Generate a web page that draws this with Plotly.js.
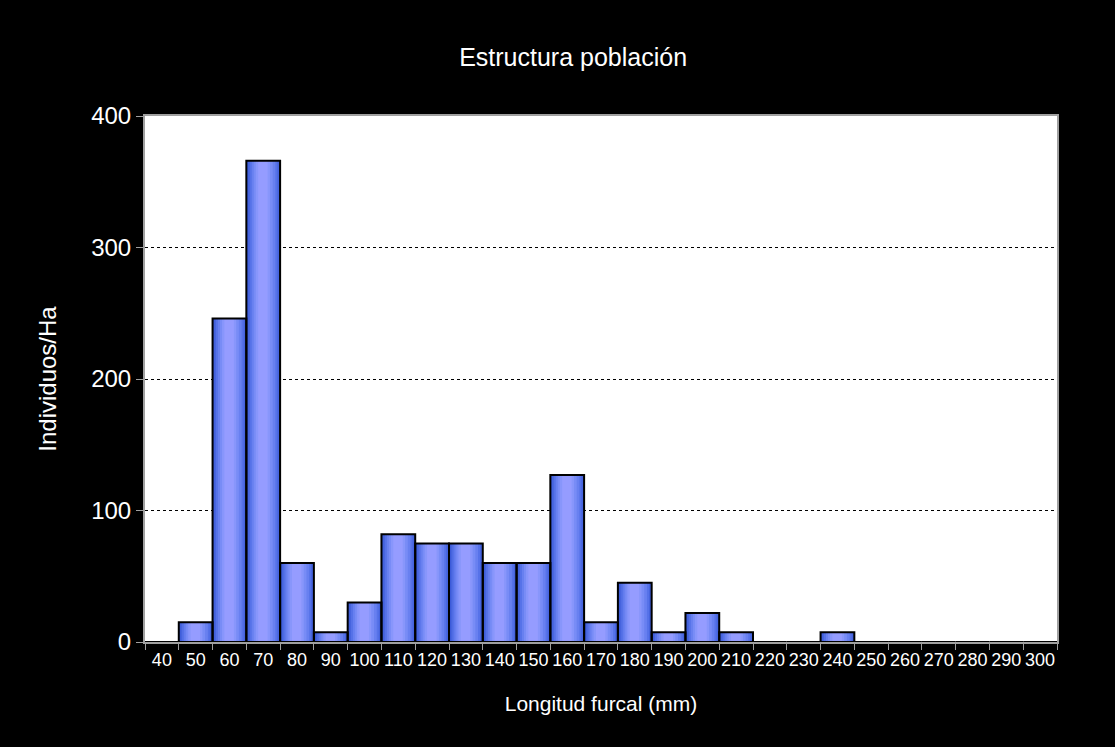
<!DOCTYPE html>
<html>
<head>
<meta charset="utf-8">
<script src="https://cdn.plot.ly/plotly-3.0.1.min.js"></script>
<style>html,body{margin:0;padding:0;background:#000;}#chart{width:1115px;height:747px;}</style>
</head>
<body>
<div id="chart"></div>
<script>
const categories = ["40","50","60","70","80","90","100","110","120","130","140","150","160","170","180","190","200","210","220","230","240","250","260","270","280","290","300"];
const values = [0,15,246,366,60,7.5,30,82,75,75,60,60,127,15,45,7.5,22,7.5,0,0,7.5,0,0,0,0,0,0];

// gradient layers: [offset, width, color]
const layers = [
  [-0.5, 1.0, "#3858d6"],
  [-0.45, 0.92, "#4664de"],
  [-0.40, 0.82, "#5672e8"],
  [-0.34, 0.70, "#6880f0"],
  [-0.28, 0.56, "#788cf6"],
  [-0.22, 0.42, "#8896fb"],
  [-0.15, 0.28, "#959cff"]
];

const traces = layers.map(l => ({
  type: "bar",
  x: categories,
  y: values,
  offset: l[0],
  width: l[1],
  marker: {color: l[2], line: {width: 0}},
  hoverinfo: "skip",
  showlegend: false
}));
traces.push({
  type: "bar",
  x: categories,
  y: values,
  offset: -0.5,
  width: 1.0,
  marker: {color: "rgba(0,0,0,0)", line: {color: "#000", width: 2}},
  showlegend: false
});

const layout = {
  width: 1115,
  height: 747,
  paper_bgcolor: "#000",
  plot_bgcolor: "#fff",
  margin: {l: 145, r: 58, t: 116, b: 105},
  barmode: "overlay",
  font: {family: "Liberation Sans, Arial, sans-serif", color: "#fff"},
  title: {
    text: "Estructura población",
    font: {size: 25, color: "#fff"},
    x: 0.514, xref: "container", xanchor: "center",
    y: 0.924, yref: "container", yanchor: "middle"
  },
  xaxis: {
    type: "category",
    tickson: "boundaries",
    ticks: "outside",
    ticklen: 6,
    tickcolor: "#a0a0a0",
    tickwidth: 1,
    tickangle: 0,
    showgrid: false,
    showline: true,
    linecolor: "#a0a0a0",
    linewidth: 2,
    mirror: true,
    tickfont: {size: 18, color: "#fff"},
    title: {text: "Longitud furcal (mm)", font: {size: 21, color: "#fff"}, standoff: 28},
    zeroline: false,
    fixedrange: true
  },
  yaxis: {
    range: [0, 400],
    dtick: 100,
    ticks: "outside",
    ticklen: 7,
    tickcolor: "#a0a0a0",
    tickwidth: 1,
    showgrid: true,
    gridcolor: "#000",
    gridwidth: 1,
    griddash: "dot",
    showline: true,
    linecolor: "#a0a0a0",
    linewidth: 2,
    mirror: true,
    zeroline: false,
    tickfont: {size: 24, color: "#fff"},
    title: {text: "Individuos/Ha", font: {size: 24, color: "#fff"}, standoff: 28},
    fixedrange: true
  }
};

Plotly.newPlot("chart", traces, layout, {displayModeBar: false, staticPlot: true});
</script>
</body>
</html>
